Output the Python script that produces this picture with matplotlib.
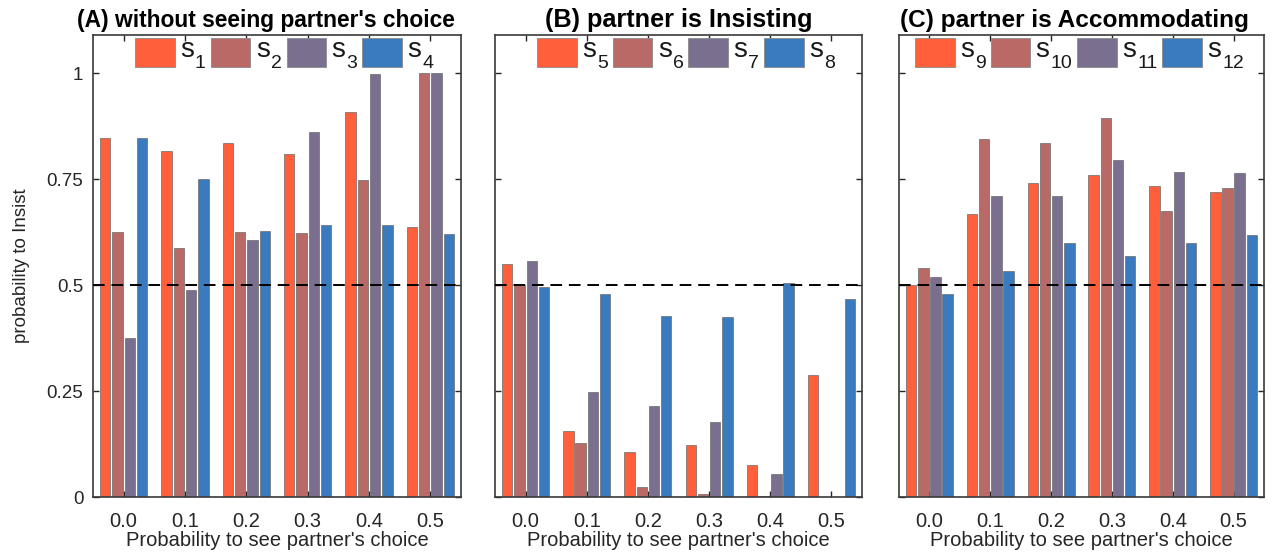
import matplotlib
matplotlib.use("Agg")
import matplotlib.pyplot as plt
from matplotlib.patches import Rectangle
import numpy as np

plt.rcParams['font.family'] = ['Liberation Sans', 'DejaVu Sans']

x_labels = ["0.0", "0.1", "0.2", "0.3", "0.4", "0.5"]
titles = ["(A) without seeing partner's choice",
          "(B) partner is Insisting",
          "(C) partner is Accommodating"]

# Panel A
s1 = [0.846, 0.815, 0.834, 0.808, 0.907, 0.636]
s2 = [0.624, 0.587, 0.624, 0.623, 0.747, 1.000]
s3 = [0.375, 0.489, 0.606, 0.860, 0.997, 1.000]
s4 = [0.847, 0.749, 0.627, 0.641, 0.641, 0.620]
# Panel B
s5 = [0.549, 0.155, 0.106, 0.123, 0.075, 0.288]
s6 = [0.500, 0.128, 0.024, 0.007, 0.002, 0.000]
s7 = [0.556, 0.248, 0.215, 0.177, 0.055, 0.000]
s8 = [0.495, 0.478, 0.428, 0.424, 0.505, 0.468]
# Panel C
s9 = [0.500, 0.667, 0.741, 0.759, 0.734, 0.720]
s10 = [0.539, 0.844, 0.834, 0.895, 0.675, 0.728]
s11 = [0.518, 0.711, 0.711, 0.795, 0.767, 0.764]
s12 = [0.479, 0.532, 0.600, 0.568, 0.598, 0.619]

panels = [
    [("1", s1), ("2", s2), ("3", s3), ("4", s4)],
    [("5", s5), ("6", s6), ("7", s7), ("8", s8)],
    [("9", s9), ("10", s10), ("11", s11), ("12", s12)],
]
colors = ["#FF5F3A", "#B96A66", "#7B6F8F", "#3A7BBF"]

W, H = 1272, 554
fig = plt.figure(figsize=(W / 100, H / 100), dpi=100)
lefts = [93, 495, 899]
widths = [368, 367, 365]
top_px, bot_px = 35, 497
title_sizes = [16.4, 18.2, 17.6]
title_x = [0.47, 0.5, 0.482]
legend_start = [135, 537, 915]

x = np.arange(len(x_labels))
offsets = [-0.3, -0.1, 0.1, 0.3]
bw = 0.17
txt = '#262626'

renderer = fig.canvas.get_renderer()

def fx(px):
    return px / W

def fy(py):
    return (H - py) / H

for i, series in enumerate(panels):
    ax = fig.add_axes([fx(lefts[i]), fy(bot_px), widths[i] / W, (bot_px - top_px) / H])
    for j, (sub, vals) in enumerate(series):
        ax.bar(x + offsets[j], vals, width=bw, color=colors[j],
               edgecolor='#6a6a6a', linewidth=0.5, zorder=2)
    ax.axhline(0.5, color='black', linestyle=(0, (6, 3.5)), linewidth=1.4, zorder=3)
    ax.set_xlim(-0.5, 5.5)
    ax.set_ylim(0, (bot_px - top_px) / 424)
    ax.set_xticks(x)
    ax.set_xticklabels(x_labels, fontsize=14.5, color=txt)
    ax.set_yticks([0, 0.25, 0.5, 0.75, 1])
    if i == 0:
        ax.set_yticklabels(["0", "0.25", "0.5", "0.75", "1"], fontsize=13.5, color=txt)
        ax.set_ylabel("probability to Insist", fontsize=13.5, color=txt, labelpad=12)
    else:
        ax.set_yticklabels([])
    ax.tick_params(direction='in', top=True, right=True, length=4.5, width=1.0, color='#262626')
    ax.tick_params(axis='x', pad=11)
    ax.tick_params(axis='y', pad=7)
    for sp in ax.spines.values():
        sp.set_color('#3a3a3a')
        sp.set_linewidth(1.2)
    ax.set_xlabel("Probability to see partner's choice", fontsize=14.5, color=txt, labelpad=0)
    ax.set_title(titles[i], fontsize=title_sizes[i], fontweight='bold', pad=6, x=title_x[i])

    # legend: colour patches with "s" and a lowered subscript
    xpos = legend_start[i]
    for j, (sub, vals) in enumerate(series):
        rect = Rectangle((fx(xpos), fy(66.7)), 39.5 / W, 28.4 / H, transform=fig.transFigure,
                         facecolor=colors[j], edgecolor='#8a8a8a', linewidth=0.6)
        fig.add_artist(rect)
        t1 = fig.text(fx(xpos + 45), fy(57.3), "s", fontsize=20, color='#1a1a1a',
                      ha='left', va='baseline')
        bb1 = t1.get_window_extent(renderer)
        sx = bb1.x1 + 1.0
        t2 = fig.text(sx / W, fy(68.3), sub, fontsize=14, color='#1a1a1a',
                      ha='left', va='baseline')
        bb2 = t2.get_window_extent(renderer)
        xpos = bb2.x1 + 5

fig.savefig("out.png", dpi=100)
